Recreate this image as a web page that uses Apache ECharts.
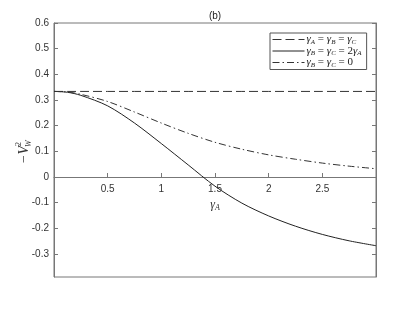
<!DOCTYPE html>
<html>
<head>
<meta charset="utf-8">
<script src="https://cdn.jsdelivr.net/npm/echarts@6/dist/echarts.min.js"></script>
<style>html,body{margin:0;padding:0;background:#fff}#c{width:415px;height:312px}</style>
</head>
<body>
<div id="c"></div>
<script>
const xValues = [0, 0.125, 0.25, 0.5, 0.75, 1, 1.25, 1.5, 1.75, 2, 2.25, 2.5, 2.75, 3];
const equalGamma = [0.3333, 0.3333, 0.3333, 0.3333, 0.3333, 0.3333, 0.3333, 0.3333, 0.3333, 0.3333, 0.3333, 0.3333, 0.3333, 0.3333];
const doubleGamma = [0.3333, 0.330, 0.318, 0.277, 0.21, 0.13, 0.047, -0.036, -0.102, -0.152, -0.192, -0.224, -0.249, -0.268];
const zeroGamma = [0.3333, 0.331, 0.322, 0.294, 0.253, 0.21, 0.17, 0.135, 0.108, 0.086, 0.069, 0.054, 0.042, 0.032];
const yTicks = [-0.3, -0.2, -0.1, 0, 0.1, 0.2, 0.3, 0.4, 0.5, 0.6];
const xTicks = [0.5, 1, 1.5, 2, 2.5];
const seriesNames = ['s1', 's2', 's3'];

const pair = (vals) => xValues.map((x, i) => [x, vals[i]]);
const axisColor = '#777';
const textColor = '#333';
const sans = '"Liberation Sans",Arial,sans-serif';
const serif = '"Liberation Serif","DejaVu Serif",serif';
const mathRich = {
  g: {fontFamily: serif, fontStyle: 'italic', fontSize: 11, color: '#222'},
  s: {fontFamily: serif, fontStyle: 'italic', fontSize: 7, color: '#222', padding: [5, 0, 0, 0]},
  t: {fontFamily: serif, fontSize: 11, color: '#222'}
};
const legendLabels = {
  s1: '{g|γ}{s|A}{t| = }{g|γ}{s|B}{t| = }{g|γ}{s|C}',
  s2: '{g|γ}{s|B}{t| = }{g|γ}{s|C}{t| = 2}{g|γ}{s|A}',
  s3: '{g|γ}{s|B}{t| = }{g|γ}{s|C}{t| = 0}'
};

const chart = echarts.init(document.getElementById('c'), null, {renderer: 'canvas'});
chart.setOption({
  animation: false,
  backgroundColor: '#fff',
  title: {
    text: '(b)', left: 215, top: 11, padding: 0, textAlign: 'center',
    textStyle: {fontFamily: sans, fontSize: 10, fontWeight: 'normal', color: '#222'}
  },
  grid: {left: 54, right: 39, top: 23, bottom: 35, show: true, borderColor: axisColor, borderWidth: 1,
    backgroundColor: 'transparent', outerBoundsMode: 'none', containLabel: false},
  legend: {
    orient: 'vertical', left: 270, top: 33,
    padding: [1, 5, 1, 2], itemGap: 0, itemWidth: 32, itemHeight: 10,
    borderColor: '#555', borderWidth: 1, backgroundColor: '#fff',
    data: seriesNames,
    itemStyle: {opacity: 0},
    lineStyle: {width: 1},
    formatter: (n) => legendLabels[n],
    textStyle: {rich: mathRich, padding: [0, 0, 0, -3]}
  },
  xAxis: {
    type: 'value', min: 0, max: 3, position: 'bottom', offset: -100,
    axisLine: {show: true, onZero: false, lineStyle: {color: axisColor, width: 1}},
    axisTick: {show: true, inside: true, length: 4, customValues: xTicks, lineStyle: {color: axisColor}},
    axisLabel: {customValues: xTicks, margin: 7, fontFamily: sans, fontSize: 10, color: textColor},
    splitLine: {show: false},
    name: '{g|γ}{s|A}', nameLocation: 'middle', nameGap: 19,
    nameTextStyle: {rich: {g: {fontFamily: serif, fontStyle: 'italic', fontSize: 12, color: '#333'}, s: {fontFamily: serif, fontStyle: 'italic', fontSize: 8, color: '#333', padding: [6, 0, 0, 0]}}}
  },
  yAxis: [{
    type: 'value', min: -0.39, max: 0.6, position: 'left',
    axisLine: {show: true, onZero: false, lineStyle: {color: axisColor}},
    axisTick: {show: true, inside: true, length: 4, customValues: yTicks, lineStyle: {color: axisColor}},
    axisLabel: {customValues: yTicks, margin: 5, fontFamily: sans, fontSize: 10, color: textColor,
      formatter: (v) => String(Math.round(v * 10) / 10)},
    splitLine: {show: false}
  }, {
    type: 'value', min: -0.39, max: 0.6, position: 'right',
    axisLine: {show: true, onZero: false, lineStyle: {color: axisColor}},
    axisTick: {show: true, inside: true, length: 4, customValues: yTicks, lineStyle: {color: axisColor}},
    axisLabel: {show: false},
    splitLine: {show: false}
  }],
  graphic: [{
    type: 'group', x: 24, y: 151, rotation: Math.PI / 2,
    children: [
      {type: 'text', x: -13, y: 0, style: {text: '−V', fontFamily: serif, fontStyle: 'italic', fontSize: 14, fill: '#333', textAlign: 'left', textVerticalAlign: 'middle'}},
      {type: 'text', x: 5, y: -5, style: {text: '2', fontFamily: serif, fontSize: 8, fill: '#333', textAlign: 'left', textVerticalAlign: 'middle'}},
      {type: 'text', x: 4, y: 5, style: {text: 'W', fontFamily: serif, fontStyle: 'italic', fontSize: 8, fill: '#333', textAlign: 'left', textVerticalAlign: 'middle'}}
    ]
  }],
  series: [
    {name: 's1', type: 'line', data: pair(equalGamma), symbol: 'none', smooth: false,
      lineStyle: {color: '#333', width: 1, type: [9, 4]}, itemStyle: {color: '#333'}},
    {name: 's2', type: 'line', data: pair(doubleGamma), symbol: 'none', smooth: 0.3,
      lineStyle: {color: '#222', width: 1, type: 'solid'}, itemStyle: {color: '#222'}},
    {name: 's3', type: 'line', data: pair(zeroGamma), symbol: 'none', smooth: 0.3,
      lineStyle: {color: '#333', width: 1, type: [7, 3, 1.5, 3]}, itemStyle: {color: '#333'}}
  ]
});
</script>
</body>
</html>
